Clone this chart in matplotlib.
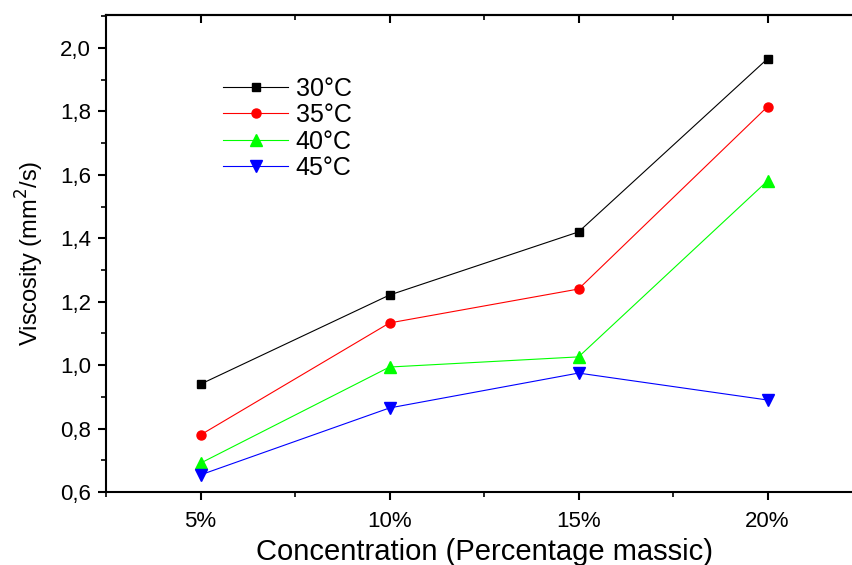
import matplotlib
matplotlib.use('Agg')
import matplotlib.pyplot as plt
from matplotlib.ticker import MultipleLocator, FuncFormatter

plt.rcParams['font.family'] = ['Liberation Sans', 'DejaVu Sans']

concentrations = ['5%', '10%', '15%', '20%']
v30 = [0.94, 1.221, 1.420, 1.966]
v35 = [0.78, 1.133, 1.240, 1.815]
v40 = [0.691, 0.994, 1.026, 1.581]
v45 = [0.654, 0.865, 0.975, 0.890]

fig = plt.figure(figsize=(8.53, 5.65), dpi=100)
ax = fig.add_axes([0.1243, 0.1292, 0.8863, 0.8443])

x = list(range(len(concentrations)))
ax.plot(x, v30, color='black', marker='s', markersize=6, lw=0.8, label='30°C')
ax.plot(x, v35, color='red', marker='o', markersize=6.5, lw=0.8, label='35°C')
ax.plot(x, v40, color='#00ff00', marker='^', markersize=9, lw=0.8, label='40°C')
ax.plot(x, v45, color='blue', marker='v', markersize=9, lw=0.8, label='45°C')

ax.set_xlim(-0.5, 3.5)
ax.set_ylim(0.6, 2.104)
ax.set_xticks(x)
ax.set_xticklabels(concentrations)
ax.xaxis.set_minor_locator(MultipleLocator(0.5))
ax.yaxis.set_major_locator(MultipleLocator(0.2))
ax.yaxis.set_minor_locator(MultipleLocator(0.1))
ax.yaxis.set_major_formatter(FuncFormatter(lambda v, p: f'{v:.1f}'.replace('.', ',')))

for s in ax.spines.values():
    s.set_linewidth(1.5)
ax.spines['right'].set_visible(False)
ax.tick_params(axis='both', which='major', direction='out', length=6, width=1.5, labelsize=16)
ax.tick_params(axis='both', which='minor', direction='out', length=3.5, width=1.2)
ax.tick_params(axis='x', which='major', pad=8)
ax.tick_params(axis='y', which='major', pad=5)

# inward ticks along the top edge
top = ax.secondary_xaxis('top')
top.set_xticks(x)
top.xaxis.set_minor_locator(MultipleLocator(0.5))
top.tick_params(which='major', direction='in', length=6, width=1.5, labeltop=False)
top.tick_params(which='minor', direction='in', length=3.5, width=1.2)
top.spines['top'].set_linewidth(1.5)

ax.set_xlabel('Concentration (Percentage massic)', fontsize=21, labelpad=4)
ax.set_ylabel('Viscosity (mm$^2$/s)', fontsize=17, labelpad=10)

ax.legend(loc='upper left', bbox_to_anchor=(0.125, 0.918), frameon=False, fontsize=18,
          handlelength=2.6, handletextpad=0.3, labelspacing=0.1)

fig.savefig('out.png', dpi=100)
